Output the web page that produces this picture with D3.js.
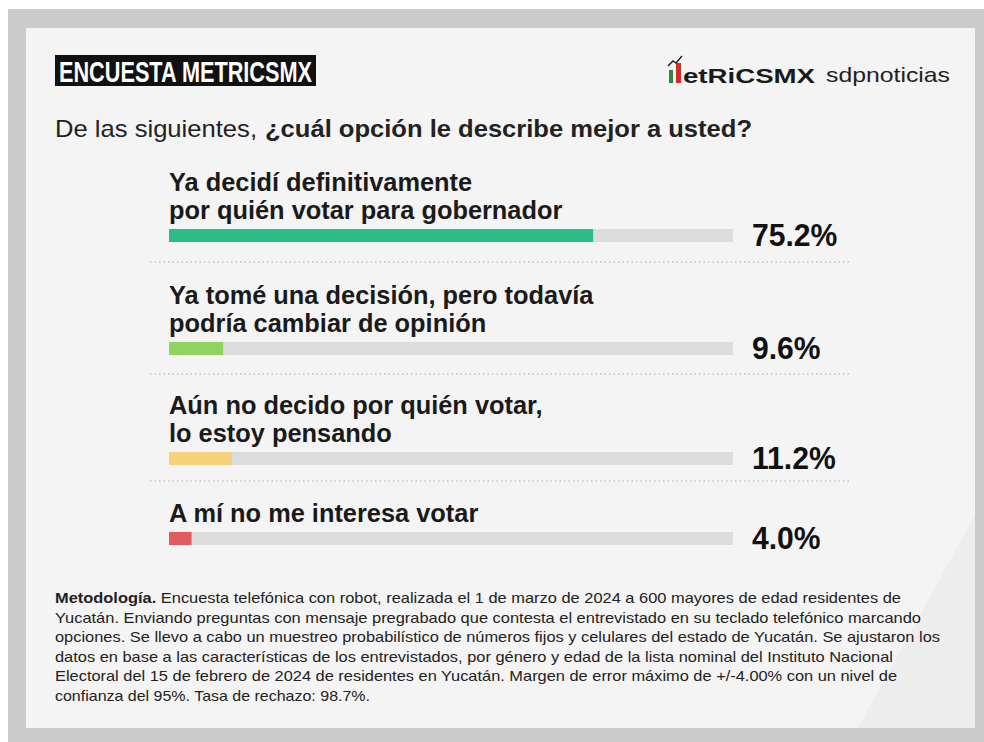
<!DOCTYPE html>
<html><head><meta charset="utf-8">
<script src="https://cdn.jsdelivr.net/npm/d3@7/dist/d3.min.js"></script>
<style>html,body{margin:0;padding:0;background:#fff;}svg{display:block;}</style>
</head><body><svg id="c" width="984" height="742"></svg>
<script>
const labels = [
  ["Ya decidí definitivamente", "por quién votar para gobernador"],
  ["Ya tomé una decisión, pero todavía", "podría cambiar de opinión"],
  ["Aún no decido por quién votar,", "lo estoy pensando"],
  ["A mí no me interesa votar"]
];
const values = [75.2, 9.6, 11.2, 4.0];
const valueLabels = ["75.2%", "9.6%", "11.2%", "4.0%"];
const colors = ["#2cbd86", "#8ed45e", "#f8d27b", "#e15a62"];
const methodLines = [
  ["Metodología.", " Encuesta telefónica con robot, realizada el 1 de marzo de 2024 a 600 mayores de edad residentes de"],
  ["", "Yucatán. Enviando preguntas con mensaje pregrabado que contesta el entrevistado en su teclado telefónico marcando"],
  ["", "opciones. Se llevo a cabo un muestreo probabilístico de números fijos y celulares del estado de Yucatán. Se ajustaron los"],
  ["", "datos en base a las características de los entrevistados, por género y edad de la lista nominal del Instituto Nacional"],
  ["", "Electoral del 15 de febrero de 2024 de residentes en Yucatán. Margen de error máximo de +/-4.00% con un nivel de"],
  ["", "confianza del 95%. Tasa de rechazo: 98.7%."]
];

const svg = d3.select("#c");
const F = "'Liberation Sans', Arial, sans-serif";

function fit(sel, w) {
  sel.attr("textLength", w).attr("lengthAdjust", "spacingAndGlyphs");
  return sel;
}
function measure(str, size, weight) {
  const t = svg.append("text").attr("font-family",F).attr("font-size",size).attr("font-weight",weight||"normal").text(str);
  const w = t.node().getComputedTextLength(); t.remove(); return w;
}

// frame
svg.append("rect").attr("x",8).attr("y",9).attr("width",976).attr("height",733).attr("fill","#cbcbcb");
svg.append("rect").attr("x",26).attr("y",28).attr("width",949).attr("height",700).attr("fill","#f4f4f4");
svg.append("polygon").attr("points","975,515 975,728 858,728").attr("fill","#ebebeb").attr("opacity",0.8);

// title box
svg.append("rect").attr("x",55).attr("y",55).attr("width",261).attr("height",31).attr("fill","#111");
fit(svg.append("text").attr("x",59).attr("y",82).attr("font-family",F).attr("font-weight","bold")
  .attr("font-size",30).attr("fill","#fff").text("ENCUESTA METRICSMX"), 253);

// logos
svg.append("rect").attr("x",669).attr("y",70).attr("width",4).attr("height",13).attr("fill","#2a8a3e");
svg.append("rect").attr("x",676).attr("y",63).attr("width",5).attr("height",20).attr("fill","#d42a2a");
svg.append("path").attr("d","M668,66 L673,61 L676,63 L682,56").attr("stroke","#222").attr("stroke-width",1.5).attr("fill","none");
fit(svg.append("text").attr("x",683).attr("y",83).attr("font-family",F).attr("font-weight","bold")
  .attr("font-size",21).attr("fill","#1a1a1a").text("etRiCSMX"), 132);
fit(svg.append("text").attr("x",826).attr("y",82).attr("font-family",F).attr("font-size",21)
  .attr("fill","#222").text("sdpnoticias"), 124);

// question
fit(svg.append("text").attr("x",55).attr("y",137).attr("font-family",F).attr("font-size",24).attr("fill","#222")
  .text("De las siguientes,"), 202);
fit(svg.append("text").attr("x",265).attr("y",137).attr("font-family",F).attr("font-size",24).attr("font-weight","bold").attr("fill","#222")
  .text("¿cuál opción le describe mejor a usted?"), 487);

// scales
const x = d3.scaleLinear().domain([0,100]).range([169,733]);
const barY = [229, 342, 452, 532];
const barH = 13;

const g = svg.append("g");
values.forEach((v,i)=>{
  const y0 = barY[i];
  const ls = labels[i];
  ls.forEach((t,j)=>{
    const w = measure(t, 25, "bold");
    fit(g.append("text").attr("x",169).attr("y", y0 - 10 - (ls.length-1-j)*28.5)
      .attr("font-family",F).attr("font-weight","bold").attr("font-size",25).attr("fill","#1a1a1a").text(t), w*1.015);
  });
  g.append("rect").attr("x",x(0)).attr("y",y0).attr("width",x(100)-x(0)).attr("height",barH).attr("fill","#dcdcdc");
  g.append("rect").attr("x",x(0)).attr("y",y0).attr("width",x(v)-x(0)).attr("height",barH).attr("fill",colors[i]);
  const vw = measure(valueLabels[i], 32, "bold");
  fit(g.append("text").attr("x",752).attr("y",y0+17).attr("font-family",F).attr("font-weight","bold")
    .attr("font-size",32).attr("fill","#111").text(valueLabels[i]), vw*0.94);
});
[262, 374, 481].forEach(y=>{
  svg.append("line").attr("x1",150).attr("x2",850).attr("y1",y).attr("y2",y)
    .attr("stroke","#c4c4c4").attr("stroke-width",1.3).attr("stroke-dasharray","1.5,3");
});

// methodology
const methodWidths = [846, 866, 885, 838, 842, 315];
methodLines.forEach((l,i)=>{
  const t = svg.append("text").attr("x",55).attr("y",603 + i*19.5).attr("font-family",F).attr("font-size",14.5).attr("fill","#222");
  if (l[0]) t.append("tspan").attr("font-weight","bold").text(l[0]);
  t.append("tspan").text(l[1]);
  fit(t, methodWidths[i]);
});
</script></body></html>
